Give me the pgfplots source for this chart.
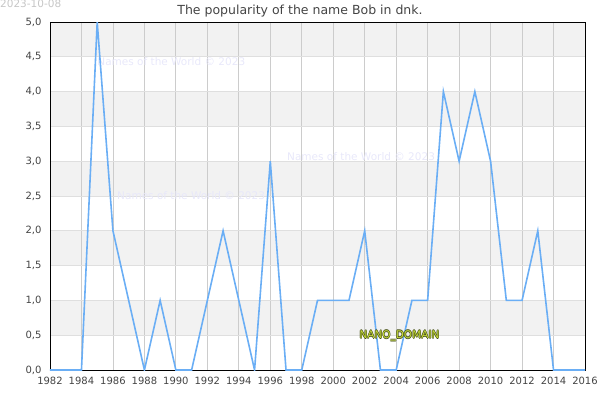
\documentclass[border=0pt]{standalone}
\usepackage{pgfplots}
\pgfplotsset{compat=1.18}
\usepackage{fontspec}
\setmainfont{DejaVu Sans}
\definecolor{txt}{RGB}{68,68,68}
\definecolor{band}{RGB}{242,242,242}
\definecolor{lineblue}{RGB}{106,174,245}
\definecolor{wm}{RGB}{232,232,250}
\definecolor{gridv}{RGB}{204,204,204}
\definecolor{nanofill}{RGB}{200,220,60}
\definecolor{nanoedge}{RGB}{70,80,20}
\begin{document}
\begin{tikzpicture}
\begin{axis}[
  set layers,
  at={(0pt,0pt)}, anchor=south west,
  scale only axis, width=535pt, height=348pt,
  xmin=1982, xmax=2016, ymin=0, ymax=5,
  xtick={1982,1984,...,2016},
  ytick={0,0.5,...,5},
  xticklabel style={/pgf/number format/1000 sep={}, yshift=-4pt},
  yticklabel style={/pgf/number format/.cd,use comma,fixed,fixed zerofill,precision=1, /tikz/xshift=-5pt},
  /pgf/number format/assume math mode=true,
  ticklabel style={font=\fontsize{10}{12}\selectfont, text=txt},
  major tick length=0pt,
  grid=major,
  x grid style={gridv, line width=0.8pt},
  y grid style={gray!25, line width=0.8pt},
  axis line style={black, line width=0.9pt},
]
\begin{pgfonlayer}{axis background}
\fill[band] (rel axis cs:0,0.1) rectangle (rel axis cs:1,0.2);
\fill[band] (rel axis cs:0,0.3) rectangle (rel axis cs:1,0.4);
\fill[band] (rel axis cs:0,0.5) rectangle (rel axis cs:1,0.6);
\fill[band] (rel axis cs:0,0.7) rectangle (rel axis cs:1,0.8);
\fill[band] (rel axis cs:0,0.9) rectangle (rel axis cs:1,1);
\end{pgfonlayer}
\node[wm, font=\fontsize{10.5}{12}\selectfont, anchor=west, inner sep=0pt] at (axis cs:1985.0,4.43) {Names of the World © 2023};
\node[wm, font=\fontsize{10.5}{12}\selectfont, anchor=west, inner sep=0pt] at (axis cs:1997.06,3.07) {Names of the World © 2023};
\node[wm, font=\fontsize{10.5}{12}\selectfont, anchor=west, inner sep=0pt] at (axis cs:1986.26,2.5) {Names of the World © 2023};
\addplot[lineblue, line width=1.6pt] coordinates {
(1982,0) (1983,0) (1984,0) (1985,5) (1986,2) (1987,1) (1988,0) (1989,1) (1990,0) (1991,0)
(1992,1) (1993,2) (1994,1) (1995,0) (1996,3) (1997,0) (1998,0) (1999,1) (2000,1) (2001,1)
(2002,2) (2003,0) (2004,0) (2005,1) (2006,1) (2007,4) (2008,3) (2009,4) (2010,3) (2011,1)
(2012,1) (2013,2) (2014,0) (2015,0) (2016,0)};
\node[text=nanoedge, font=\fontsize{10.5}{12}\selectfont, xshift=-0.6pt] at (axis cs:2004.21,0.49) {NANO\_DOMAIN};
\node[text=nanoedge, font=\fontsize{10.5}{12}\selectfont, xshift=0.6pt] at (axis cs:2004.21,0.49) {NANO\_DOMAIN};
\node[text=nanoedge, font=\fontsize{10.5}{12}\selectfont, yshift=-0.6pt] at (axis cs:2004.21,0.49) {NANO\_DOMAIN};
\node[text=nanoedge, font=\fontsize{10.5}{12}\selectfont, yshift=0.6pt] at (axis cs:2004.21,0.49) {NANO\_DOMAIN};
\node[text=nanofill, font=\fontsize{10.5}{12}\selectfont] at (axis cs:2004.21,0.49) {NANO\_DOMAIN};
\end{axis}
\node[text=txt, font=\fontsize{12.5}{14}\selectfont, anchor=center] at (250pt,359pt) {The popularity of the name Bob in dnk.};
\node[anchor=north west, text=gray!45, font=\fontsize{10.5}{12}\selectfont, inner sep=0pt] at (-50pt,370pt) {2023-10-08};
\pgfresetboundingbox
\path[use as bounding box] (-50pt,-30pt) rectangle (550pt,370pt);
\end{tikzpicture}
\end{document}
